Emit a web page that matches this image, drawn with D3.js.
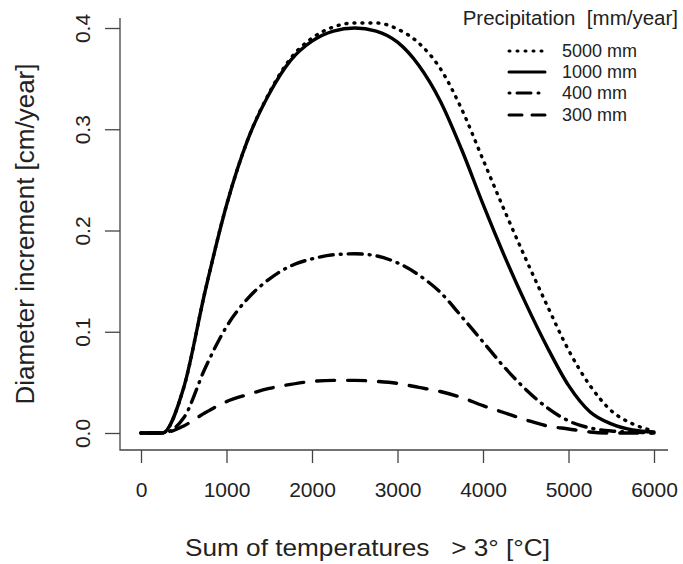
<!DOCTYPE html>
<html><head><meta charset="utf-8">
<script src="https://cdn.jsdelivr.net/npm/d3@7"></script>
<style>body{margin:0;background:#fff}svg{display:block}text{font-family:"Liberation Sans",Arial,sans-serif;fill:#222;white-space:pre}</style>
</head><body><svg id="c" width="683" height="564"></svg>
<script>
const temps = [0,250,500,750,1000,1250,1500,1750,2000,2250,2500,2750,3000,3250,3500,3750,4000,4250,4500,4750,5000,5250,5500,5750,6000];
const p5000 = [0,0,0.045,0.14,0.225,0.29,0.336,0.37,0.39,0.401,0.405,0.405,0.399,0.385,0.36,0.32,0.27,0.22,0.172,0.126,0.082,0.047,0.022,0.009,0.002];
const p1000 = [0,0,0.045,0.14,0.225,0.29,0.335,0.368,0.387,0.397,0.4,0.397,0.386,0.363,0.328,0.28,0.226,0.175,0.128,0.085,0.047,0.021,0.009,0.003,0.001];
const p400  = [0,0,0.015,0.064,0.105,0.133,0.152,0.165,0.172,0.176,0.177,0.175,0.168,0.156,0.139,0.115,0.09,0.065,0.043,0.025,0.012,0.005,0.002,0.001,0];
const p300  = [0,0,0.007,0.02,0.031,0.038,0.044,0.048,0.051,0.052,0.052,0.051,0.049,0.045,0.041,0.035,0.027,0.02,0.013,0.007,0.004,0.001,0,0,0];
const seriesNames = ["5000 mm","1000 mm","400 mm","300 mm"];
const seriesDash = ["1,7","none","1,7,14,7","18,13"];
const xTicks = [0,1000,2000,3000,4000,5000,6000];
const yTicks = [0,0.1,0.2,0.3,0.4];

const svg = d3.select("#c");
const x = d3.scaleLinear().domain([0,6000]).range([141,654]);
const y = d3.scaleLinear().domain([0,0.4]).range([433,28]);
const all = [p5000,p1000,p400,p300];

svg.append("path").attr("d",`M120,18V450H668`).attr("fill","none").attr("stroke","#444").attr("stroke-width",1.3);

const xa = svg.append("g").attr("transform","translate(0,450)")
  .call(d3.axisBottom(x).tickValues(xTicks).tickSize(13).tickPadding(19).tickFormat(d3.format("d")));
const ya = svg.append("g").attr("transform","translate(120,0)")
  .call(d3.axisLeft(y).tickValues(yTicks).tickSize(15).tickFormat(d3.format(".1f")));
[xa,ya].forEach(g=>{g.select(".domain").remove();g.selectAll("line").attr("stroke","#444").attr("stroke-width",1.3);
  g.selectAll("text").attr("font-size",21).attr("fill","#222").style("font-family","Liberation Sans, Arial, sans-serif");});
ya.selectAll(".tick text").attr("text-anchor","middle").attr("transform","rotate(-90)").attr("x",0).attr("y",-30).attr("dy","0");

const line = d3.line().x((d,i)=>x(temps[i])).y(d=>y(d)).curve(d3.curveMonotoneX);
all.forEach((s,k)=>{
  svg.append("path").datum(s).attr("d",line).attr("fill","none").attr("stroke","#000")
    .attr("stroke-width",3.4).attr("stroke-linecap","round")
    .attr("stroke-dasharray",seriesDash[k]==="none"?null:seriesDash[k]);
});

// legend
svg.append("text").attr("x",678).attr("y",25).attr("text-anchor","end").attr("font-size",20.5).text("Precipitation  [mm/year]");
const ly = [51,72,93,115];
const legDash = ["1,7",null,"1,7,14,7","13,10"];
seriesNames.forEach((n,k)=>{
  svg.append("line").attr("x1",509).attr("x2",545).attr("y1",ly[k]).attr("y2",ly[k])
    .attr("stroke","#000").attr("stroke-width",3).attr("stroke-linecap","round")
    .attr("stroke-dasharray",legDash[k]);
  svg.append("text").attr("x",562).attr("y",ly[k]+6).attr("font-size",18).text(n);
});

// titles
svg.append("text").attr("x",185).attr("y",556).attr("font-size",24)
  .attr("textLength",365).attr("lengthAdjust","spacingAndGlyphs")
  .text("Sum of temperatures   > 3\u00b0 [\u00b0C]");
svg.append("text").attr("transform","translate(34,234) rotate(-90)").attr("text-anchor","middle").attr("font-size",26)
  .text("Diameter increment [cm/year]");
</script></body></html>
